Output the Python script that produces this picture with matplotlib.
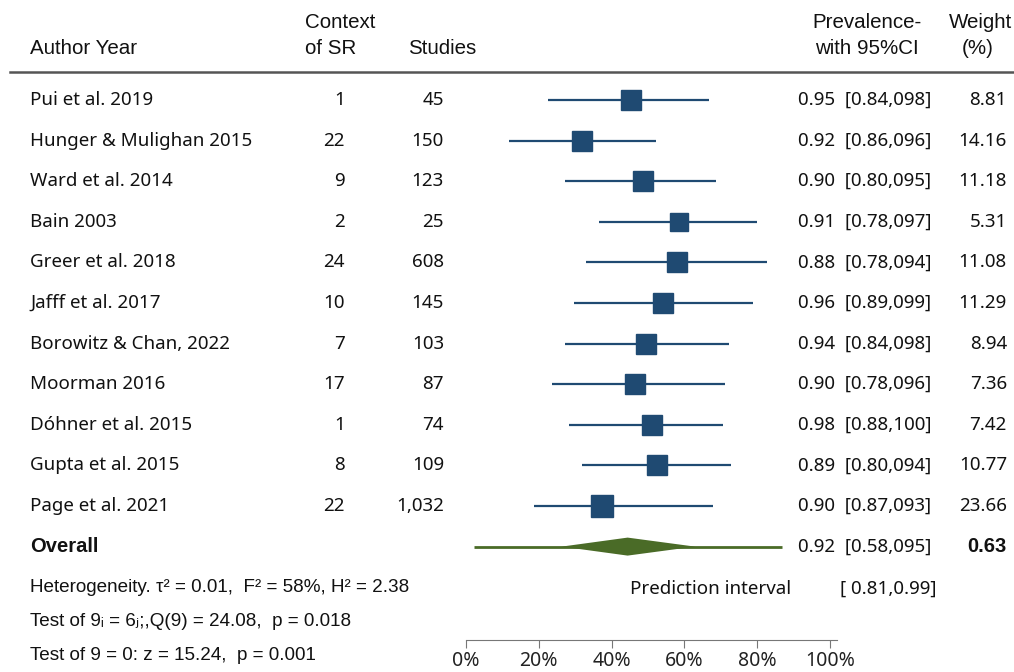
import matplotlib
matplotlib.use("Agg")
import matplotlib.pyplot as plt
import matplotlib.transforms as mtransforms
import numpy as np

# ---- data ----
authors = ["Pui et al. 2019", "Hunger & Mulighan 2015", "Ward et al. 2014", "Bain 2003",
           "Greer et al. 2018", "Jafff et al. 2017", "Borowitz & Chan, 2022", "Moorman 2016",
           "Dóhner et al. 2015", "Gupta et al. 2015", "Page et al. 2021"]
context = [1, 22, 9, 2, 24, 10, 7, 17, 1, 8, 22]
studies = [45, 150, 123, 25, 608, 145, 103, 87, 74, 109, 1032]
est = [45.3, 31.9, 48.6, 58.5, 58.0, 54.1, 49.5, 46.4, 51.1, 52.5, 37.4]
lo = [22.4, 11.7, 27.2, 36.5, 33.0, 29.7, 27.2, 23.6, 28.3, 31.9, 18.7]
hi = [66.7, 52.2, 68.7, 79.9, 82.7, 78.8, 72.3, 71.2, 70.6, 72.8, 67.9]
prev_labels = ["0.95  [0.84,098]", "0.92  [0.86,096]", "0.90  [0.80,095]", "0.91  [0.78,097]",
               "0.88  [0.78,094]", "0.96  [0.89,099]", "0.94  [0.84,098]", "0.90  [0.78,096]",
               "0.98  [0.88,100]", "0.89  [0.80,094]", "0.90  [0.87,093]"]
weights = [8.81, 14.16, 11.18, 5.31, 11.08, 11.29, 8.94, 7.36, 7.42, 10.77, 23.66]

overall_est = 44.4
overall_lo, overall_hi = 26.3, 62.9
pred_lo, pred_hi = 2.2, 86.9
overall_label = "0.92  [0.58,095]"
overall_weight = "0.63"
pred_label = "[ 0.81,0.99]"
xticks = [0, 20, 40, 60, 80, 100]

stats_lines = ["Heterogeneity. τ² = 0.01,  F² = 58%, H² = 2.38",
               "Test of 9ᵢ = 6ⱼ;,Q(9) = 24.08,  p = 0.018",
               "Test of 9 = 0: z = 15.24,  p = 0.001"]

W, H = 1014, 672
blue = "#1f4a72"
green = "#4a6b27"
row_font = "Noto Sans"
head_font = "Liberation Sans"
fs = 13.5

fig = plt.figure(figsize=(W / 100, H / 100), dpi=100)
# plot axes: 0..100% spans x=466..830 px, full height, rows 40.6 px apart starting at y=100
ax = fig.add_axes([466 / W, 0, 364 / W, 1])
ax.set_xlim(0, 100)
row_h = 40.6
ax.set_ylim((H - 100) / row_h, -100 / row_h)

def py(pix):
    # pixel y -> row units
    return (pix - 100) / row_h

tr = mtransforms.blended_transform_factory(fig.transFigure, ax.transData)

def txt(xpix, y, s, **kw):
    ax.text(xpix / W, y, s, transform=tr, va="center", clip_on=False, **kw)

n = len(authors)
rows = np.arange(n)

# CI lines and boxes
ax.hlines(rows, lo, hi, color=blue, lw=1.6, zorder=2)
for i in range(n):
    ax.plot(est[i], rows[i], marker="s", ms=11 + np.sqrt(weights[i]),
            color=blue, mec=blue, zorder=3)

# overall diamond + prediction interval
oy = n
dh = 9 / row_h
ax.hlines(oy, pred_lo, pred_hi, color=green, lw=2, zorder=2)
ax.fill([overall_lo, overall_est, overall_hi, overall_est],
        [oy, oy - dh, oy, oy + dh], color=green, lw=0, zorder=3)

# x axis
for s in ["top", "right", "left"]:
    ax.spines[s].set_visible(False)
ax.spines["bottom"].set_position(("data", py(640)))
ax.spines["bottom"].set_bounds(0, 102)
ax.spines["bottom"].set_color("#777777")
ax.set_xticks(xticks)
ax.set_xticklabels([f"{t}%" for t in xticks], fontsize=14, family=row_font, color="#222222")
ax.tick_params(axis="x", direction="out", length=6, color="#777777", pad=2)
ax.set_yticks([])
ax.patch.set_alpha(0)

# header
hc = "#111111"
hs = 14.8
txt(30, py(48), "Author Year", fontsize=hs, family=head_font, color=hc)
txt(305, py(22), "Context", fontsize=hs, family=head_font, color=hc)
txt(305, py(48), "of SR", fontsize=hs, family=head_font, color=hc)
txt(408, py(48), "Studies", fontsize=hs, family=head_font, color=hc)
txt(867, py(22), "Prevalence-", fontsize=hs, family=head_font, color=hc, ha="center")
txt(867, py(48), "with 95%CI", fontsize=hs, family=head_font, color=hc, ha="center")
txt(981, py(22), "Weight", fontsize=hs, family=head_font, color=hc, ha="center")
txt(978, py(48), "(%)", fontsize=hs, family=head_font, color=hc, ha="center")
fig.add_artist(plt.Line2D([10 / W, 1], [1 - 72 / H, 1 - 72 / H], color="#555555", lw=1.8))

# study rows
for i in range(n):
    y = rows[i]
    txt(30, y, authors[i], fontsize=fs, family=row_font, color=hc)
    txt(345, y, str(context[i]), fontsize=fs, family=row_font, color=hc, ha="right")
    txt(444, y, f"{studies[i]:,}", fontsize=fs, family=row_font, color=hc, ha="right")
    txt(798, y, prev_labels[i], fontsize=fs, family=row_font, color=hc)
    txt(1007, y, f"{weights[i]:.2f}", fontsize=fs, family=row_font, color=hc, ha="right")

# overall row
txt(30, oy, "Overall", fontsize=14.5, family=head_font, color=hc, weight="bold")
txt(798, oy, overall_label, fontsize=fs, family=row_font, color=hc)
txt(1007, oy, overall_weight, fontsize=14.5, family=head_font, color=hc, ha="right", weight="bold")

# prediction interval
txt(630, py(589), "Prediction interval", fontsize=fs, family=row_font, color=hc)
txt(937, py(589), pred_label, fontsize=fs, family=row_font, color=hc, ha="right")

# heterogeneity stats
for yy, s in zip([587, 621, 655], stats_lines):
    txt(30, py(yy), s, fontsize=13.6, family=[head_font, "DejaVu Sans"], color=hc)

fig.savefig("out.png", dpi=100)
